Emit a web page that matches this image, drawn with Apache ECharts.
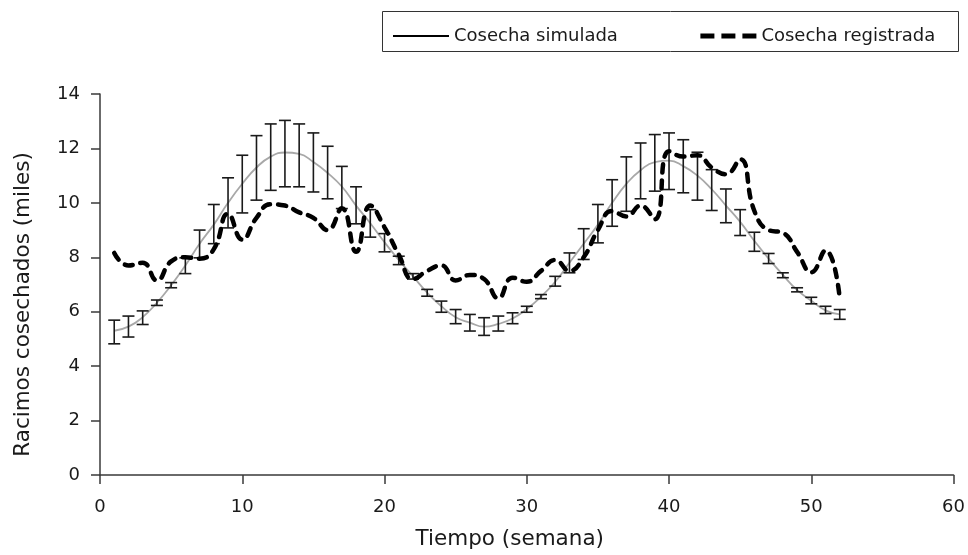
<!DOCTYPE html>
<html>
<head>
<meta charset="utf-8">
<script src="https://cdn.jsdelivr.net/npm/echarts@6/dist/echarts.min.js"></script>
<style>
html,body{margin:0;padding:0;background:#fff;}
#c{width:968px;height:555px;}
</style>
</head>
<body>
<div id="c"></div>
<script>
const weeks = [1,2,3,4,5,6,7,8,9,10,11,12,13,14,15,16,17,18,19,20,21,22,23,24,25,26,27,28,29,30,31,32,33,34,35,36,37,38,39,40,41,42,43,44,45,46,47,48,49,50,51,52];
const simulated = [5.3,5.45,5.8,6.33,6.97,7.7,8.5,9.2,10.0,10.7,11.3,11.7,11.85,11.8,11.5,11.1,10.6,9.9,9.25,8.55,7.9,7.3,6.7,6.2,5.8,5.6,5.45,5.55,5.75,6.1,6.55,7.1,7.8,8.5,9.2,10.0,10.7,11.2,11.5,11.55,11.35,11.0,10.5,9.9,9.3,8.6,7.95,7.35,6.8,6.4,6.05,5.9];
const simHigh = [5.69,5.84,6.03,6.43,7.07,7.98,9.0,9.94,10.92,11.75,12.47,12.9,13.03,12.9,12.57,12.08,11.34,10.59,9.75,8.87,8.04,7.4,6.82,6.39,6.08,5.9,5.78,5.84,5.96,6.2,6.63,7.3,8.16,9.05,9.94,10.85,11.69,12.2,12.51,12.57,12.32,11.86,11.22,10.51,9.75,8.92,8.14,7.43,6.88,6.53,6.2,6.08];
const simLow = [4.82,5.07,5.53,6.23,6.88,7.4,7.98,8.5,9.08,9.63,10.1,10.46,10.59,10.59,10.4,10.15,9.79,9.23,8.74,8.2,7.73,7.2,6.57,5.98,5.56,5.29,5.13,5.29,5.56,5.98,6.48,6.94,7.43,7.92,8.53,9.14,9.69,10.15,10.43,10.49,10.37,10.1,9.72,9.27,8.8,8.22,7.77,7.25,6.73,6.29,5.93,5.72];
const recorded = [8.16,7.7,7.8,7.15,7.85,8.0,7.95,8.3,9.6,8.65,9.45,9.95,9.9,9.65,9.45,9.0,9.8,8.2,9.9,9.1,8.1,7.2,7.5,7.7,7.15,7.35,7.2,6.5,7.25,7.1,7.5,7.9,7.5,8.0,9.0,9.7,9.5,9.9,9.4,11.9,11.7,11.75,11.3,11.05,11.6,9.7,9.0,8.9,8.2,7.45,8.25,6.5];
const xTicks = [0,10,20,30,40,50,60];
const yTicks = [0,2,4,6,8,10,12,14];

const FONT = 'DejaVu Sans';
const TXT = '#1a1a1a';
const AX = '#3a3a3a';

const chart = echarts.init(document.getElementById('c'), null, {renderer:'canvas'});
const simData = weeks.map((w,i)=>[w, simulated[i]]);
const barData = weeks.map((w,i)=>[w, simLow[i], simHigh[i]]);
const recData = weeks.map((w,i)=>[w, recorded[i]]);

chart.setOption({
  animation:false,
  backgroundColor:'#fff',
  textStyle:{fontFamily:FONT, color:TXT},
  grid:{left:100, right:6, top:94, bottom:79, containLabel:false},
  graphic:[{type:'rect', shape:{x:382.5, y:11.5, width:576, height:40}, style:{fill:'none', stroke:'#333', lineWidth:1}, z:10}],
  legend:{
    left:392, top:27, padding:0, itemGap:80, itemWidth:56, itemHeight:14,
    textStyle:{fontFamily:FONT, fontSize:18, color:TXT},
    data:[
      {name:'Cosecha simulada', itemStyle:{opacity:0}, lineStyle:{color:'#000', width:2, type:'solid', opacity:1}},
      {name:'Cosecha registrada', itemStyle:{opacity:0}, lineStyle:{color:'#000', width:5, type:[14,7], cap:'butt', opacity:1}}
    ]
  },
  xAxis:{
    type:'value', min:xTicks[0], max:xTicks[xTicks.length-1], interval:10,
    name:'Tiempo (semana)', nameLocation:'middle', nameGap:53,
    nameTextStyle:{fontFamily:FONT, fontSize:21.5, color:TXT, padding:[0,34,0,0]},
    axisLine:{lineStyle:{color:AX, width:1.5}},
    axisTick:{show:true, length:9, lineStyle:{color:AX, width:1.5}},
    axisLabel:{fontFamily:FONT, fontSize:18, color:TXT, margin:23},
    splitLine:{show:false}
  },
  yAxis:{
    type:'value', min:yTicks[0], max:yTicks[yTicks.length-1], interval:2,
    name:'Racimos cosechados (miles)', nameLocation:'middle', nameGap:66,
    nameTextStyle:{fontFamily:FONT, fontSize:21.5, color:TXT, padding:[0,40,0,0]},
    axisLine:{show:true, lineStyle:{color:AX, width:1.5}},
    axisTick:{show:true, length:9, lineStyle:{color:AX, width:1.5}},
    axisLabel:{fontFamily:FONT, fontSize:18, color:TXT, margin:20},
    splitLine:{show:false}
  },
  series:[
    {
      name:'Cosecha simulada', type:'line', data:simData, smooth:0.5,
      symbol:'none', showSymbol:false, lineStyle:{color:'#a8a8a8', width:1.8}, z:2
    },
    {
      name:'errores', type:'custom', data:barData, z:3,
      renderItem:function(params, api){
        const x = api.value(0);
        const pLo = api.coord([x, api.value(1)]);
        const pHi = api.coord([x, api.value(2)]);
        const hw = 6;
        const st = {stroke:'#1a1a1a', lineWidth:1.6};
        return {type:'group', children:[
          {type:'line', shape:{x1:pLo[0], y1:pLo[1], x2:pHi[0], y2:pHi[1]}, style:st},
          {type:'line', shape:{x1:pHi[0]-hw, y1:pHi[1], x2:pHi[0]+hw, y2:pHi[1]}, style:st},
          {type:'line', shape:{x1:pLo[0]-hw, y1:pLo[1], x2:pLo[0]+hw, y2:pLo[1]}, style:st}
        ]};
      }
    },
    {
      name:'Cosecha registrada', type:'line', data:recData, smooth:0.5,
      symbol:'none', showSymbol:false, lineStyle:{color:'#000', width:4.5, type:[8,8], cap:'round'}, z:4
    }
  ]
});
</script>
</body>
</html>
